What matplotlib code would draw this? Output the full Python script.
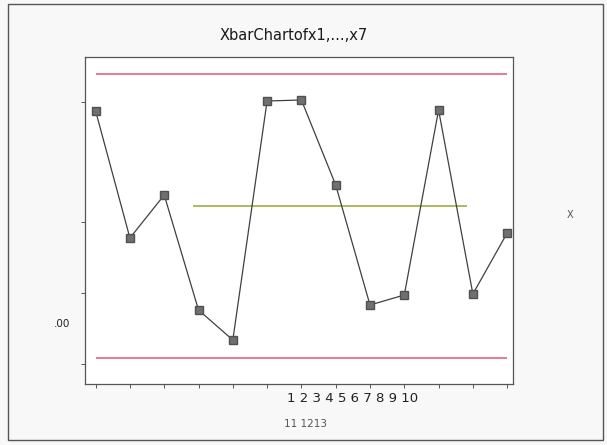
import matplotlib
matplotlib.use("Agg")
import matplotlib.pyplot as plt
from matplotlib.patches import Rectangle

# subgroup means of x1..x7
samples = list(range(1, 14))
xbar = [27.3, 14.6, 18.9, 7.4, 4.4, 28.3, 28.4, 19.9, 7.9, 8.9, 27.4, 9.0, 15.1]
ucl = 31.0
lcl = 2.6
center = 17.8
center_span = (3.84, 11.83)
ytick_pos = [28.2, 16.2, 9.1, 2.0]

fig = plt.figure(figsize=(6.07, 4.45), dpi=100)
fig.patch.set_facecolor("#f8f8f8")
fig.patches.append(Rectangle((0.013, 0.011), 0.98, 0.98, transform=fig.transFigure,
                             fill=False, edgecolor="#555555", linewidth=1.0))

ax = fig.add_axes([85 / 607, 1 - 384 / 445, (513 - 85) / 607, (384 - 57) / 445])
ax.set_facecolor("white")

ax.hlines([ucl, lcl], samples[0], samples[-1], colors="#e8708a", linewidth=1.3)
ax.hlines(center, center_span[0], center_span[1], colors="#9ab040", linewidth=1.2)
ax.plot(samples, xbar, color="#404040", linewidth=0.9, marker="s", markersize=6,
        markerfacecolor="#707070", markeredgecolor="#505050")

ax.set_xlim(0.69, 13.17)
ax.set_ylim(0, 32.7)
ax.set_xticks(samples)
ax.set_xticklabels([])
ax.set_yticks(ytick_pos)
ax.set_yticklabels([])
ax.tick_params(length=3, width=0.7, colors="#555555")
for s in ax.spines.values():
    s.set_color("#555555")
    s.set_linewidth(0.9)

fig.text(294 / 607, 1 - 36 / 445, "XbarChartofx1,...,x7", ha="center", va="center",
         fontsize=10.5, color="#1a1a1a")
fig.text(62 / 607, 1 - 324 / 445, ".00", ha="center", va="center", fontsize=7.5, color="#222222")
fig.text(570 / 607, 1 - 215 / 445, "X", ha="center", va="center", fontsize=7, color="#555555")
fig.text(353 / 607, 1 - 398 / 445, "1 2 3 4 5 6 7 8 9 10", ha="center", va="center",
         fontsize=9.5, color="#222222")
fig.text(306 / 607, 1 - 424 / 445, "11 1213", ha="center", va="center",
         fontsize=7.5, color="#555555")

fig.savefig("out.png", dpi=100, facecolor=fig.get_facecolor())
